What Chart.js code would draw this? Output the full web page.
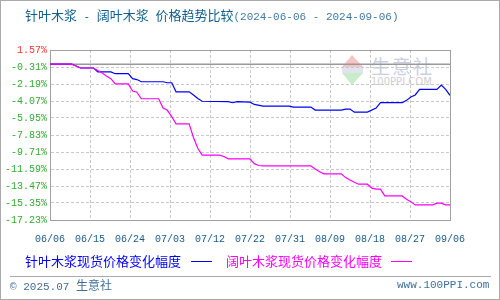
<!DOCTYPE html>
<html>
<head>
<meta charset="utf-8">
<script src="https://cdn.jsdelivr.net/npm/chart.js@4.4.1/dist/chart.umd.min.js"></script>
<style>
body { margin: 0; background: #fff; }
#wrap { position: relative; width: 500px; height: 300px; overflow: hidden; font-family: "Noto Sans CJK SC", sans-serif; }
#chBox { position: absolute; left: 0; top: 0; }
.mono { font-family: "Liberation Mono", "DejaVu Sans Mono", monospace; }
.abs { position: absolute; white-space: pre; line-height: 1; }
#frame { position: absolute; left: 0; top: 0; width: 500px; height: 300px; box-sizing: border-box; border: 1px solid #aaa; pointer-events: none; }
</style>
</head>
<body>
<div id="wrap">
    <!-- watermark under the canvas -->
    <div class="abs" style="left:342px;top:55px;width:0;height:0;border-left:10px solid transparent;border-right:11px solid transparent;border-bottom:12px solid #f6c4c4;"></div>
    <div class="abs" style="left:342px;top:67px;width:21px;height:6px;background:#dfe4ef;"></div>
    <div class="abs" style="left:342px;top:73px;width:0;height:0;border-left:10px solid transparent;border-right:11px solid transparent;border-top:12px solid #c9ecc9;"></div>
    <div class="abs" style="left:371px;top:56px;font-size:19px;color:#c9d0e2;letter-spacing:2px;">生意社</div>
    <div class="abs" style="left:371px;top:77px;font-size:10px;color:#cfcfcf;font-family:'DejaVu Sans',sans-serif;">100PPI.COM</div>

    <canvas id="chBox" width="500" height="300"></canvas>

    <div class="abs" style="left:25px;top:8px;font-size:13px;color:#0e5f8f;">针叶木浆<span class="mono" style="font-size:11px"> - </span>阔叶木浆<span class="mono" style="font-size:11px"> </span>价格趋势比较<span class="mono" style="font-size:11px;color:#3f7aa6;">(2024-06-06 - 2024-09-06)</span></div>

    <div class="abs" style="left:25px;top:254px;font-size:13px;color:#0000ff;">针叶木浆现货价格变化幅度</div>
    <div class="abs" style="left:191px;top:261px;width:21px;border-top:1px solid #0000ff;"></div>
    <div class="abs" style="left:226px;top:254px;font-size:13px;color:#ff00ff;">阔叶木浆现货价格变化幅度</div>
    <div class="abs" style="left:391px;top:261px;width:21px;border-top:1px solid #ff00ff;"></div>

    <div class="abs" style="left:10px;top:276px;width:481px;border-top:1px solid #aaa;"></div>
    <div class="abs" style="left:10px;top:279px;font-size:12px;color:#3f6f99;"><span class="mono" style="font-size:11px">© 2025.07 </span>生意社</div>
    <div class="abs mono" style="left:397px;top:280px;font-size:11px;color:#3f6f99;">www.100PPI.com</div>
    <div id="frame"></div>
</div>
<script>
// x = days since 2024-06-06
let xLabels = ['06/06', '06/15', '06/24', '07/03', '07/12', '07/22', '07/31', '08/09', '08/18', '08/27', '09/06'];
let yTicks = [-17.23, -15.35, -13.47, -11.59, -9.71, -7.83, -5.95, -4.07, -2.19, -0.31, 1.57];

// 针叶木浆 (blue)
let softDays = [0, 5, 6, 7, 10, 11, 14, 15, 18, 19, 20, 21, 26, 27, 28, 29, 32, 33, 34, 35, 41, 42, 43, 46, 47, 49, 55, 56, 60, 61, 67, 68, 69, 70, 73, 75, 76, 81, 82, 83, 84, 85, 89, 90, 91, 92];
let softVals = [0, 0, -0.2, -0.42, -0.42, -0.86, -0.86, -1.05, -1.05, -1.6, -1.7, -1.94, -1.94, -2.05, -2.05, -3.05, -3.05, -3.4, -3.8, -4.1, -4.15, -4.26, -4.15, -4.2, -4.45, -4.63, -4.63, -4.74, -4.74, -5.07, -5.07, -4.96, -4.96, -5.3, -5.3, -4.85, -4.26, -4.26, -4.0, -3.63, -3.4, -2.79, -2.79, -2.3, -2.79, -3.45];

// 阔叶木浆 (magenta)
let hardDays = [0, 5, 6, 7, 10, 11, 12, 13, 14, 15, 18, 19, 20, 21, 25, 26, 27, 28, 29, 32, 33, 34, 35, 39, 40, 41, 46, 47, 48, 49, 60, 61, 62, 63, 67, 68, 69, 70, 71, 73, 74, 75, 76, 77, 81, 82, 83, 84, 88, 89, 90, 91, 92];
let hardVals = [0, 0, -0.2, -0.42, -0.42, -0.69, -0.97, -1.3, -1.6, -2.18, -2.18, -2.97, -3.1, -3.82, -3.82, -4.85, -5.1, -5.8, -6.6, -6.6, -8.1, -9.3, -10.05, -10.05, -10.2, -10.47, -10.47, -11.0, -11.2, -11.24, -11.24, -11.6, -11.9, -12.13, -12.13, -12.54, -12.8, -13.05, -13.27, -13.27, -13.7, -13.82, -13.82, -14.57, -14.57, -14.93, -15.2, -15.56, -15.56, -15.37, -15.37, -15.56, -15.56];

let lastDay = 92;

function toPoints(days, vals) {
    let pts = [];
    for (let i = 0; i < days.length; i++) {
        pts.push({ x: days[i], y: vals[i] });
    }
    return pts;
}

let frame = {
    id: 'frame',
    beforeDatasetsDraw(chart) {
        let a = chart.chartArea;
        let ctx = chart.ctx;
        ctx.save();
        ctx.strokeStyle = '#a0a0a0';
        ctx.lineWidth = 1;
        ctx.strokeRect(Math.round(a.left) + 0.5, Math.round(a.top) + 0.5, Math.round(a.right - a.left), Math.round(a.bottom - a.top));
        ctx.restore();
    }
};

let tickFont = { family: "'Liberation Mono', 'DejaVu Sans Mono', monospace", size: 10 };

new Chart(document.getElementById('chBox'), {
    type: 'line',
    data: {
        datasets: [{
            label: '阔叶木浆现货价格变化幅度',
            data: toPoints(hardDays, hardVals),
            borderColor: '#ff00ff',
            borderWidth: 1.2,
            pointRadius: 0,
            tension: 0,
            fill: false
        }, {
            label: '针叶木浆现货价格变化幅度',
            data: toPoints(softDays, softVals),
            borderColor: '#0000ff',
            borderWidth: 1.2,
            pointRadius: 0,
            tension: 0,
            fill: false
        }, {
            label: 'zero',
            data: [{ x: 0, y: 0 }, { x: lastDay, y: 0 }],
            borderColor: '#999999',
            borderWidth: 1.5,
            pointRadius: 0,
            fill: false
        }]
    },
    options: {
        responsive: false,
        animation: false,
        layout: { padding: { left: 0, top: 50, right: 50, bottom: 50 } },
        plugins: {
            legend: { display: false },
            tooltip: { enabled: false }
        },
        scales: {
            x: {
                type: 'linear',
                min: 0,
                max: lastDay,
                afterBuildTicks: axis => {
                    axis.ticks = xLabels.map((_, i) => ({ value: i * lastDay / (xLabels.length - 1) }));
                },
                afterFit: scale => { scale.height = 30; },
                grid: { color: '#c8c8c8', drawTicks: false },
                border: { color: '#a0a0a0', dash: [3, 2] },
                ticks: {
                    autoSkip: false,
                    maxRotation: 0,
                    padding: 13,
                    color: '#1a5a8a',
                    font: tickFont,
                    callback: (value, index) => xLabels[index]
                }
            },
            y: {
                min: yTicks[0],
                max: yTicks[yTicks.length - 1],
                afterBuildTicks: axis => {
                    axis.ticks = yTicks.map(v => ({ value: v }));
                },
                afterFit: scale => { scale.width = 50; },
                grid: { color: '#c8c8c8', drawTicks: false },
                border: { color: '#a0a0a0', dash: [3, 2] },
                ticks: {
                    padding: 3,
                    font: tickFont,
                    color: ctx => ctx.tick.value > 0 ? '#ff3333' : '#33aa33',
                    callback: value => value.toFixed(2) + '%'
                }
            }
        }
    },
    plugins: [frame]
});
</script>
</body>
</html>
